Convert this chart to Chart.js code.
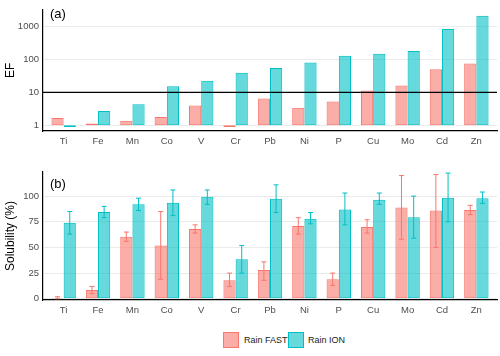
<!DOCTYPE html>
<html>
<head>
<meta charset="utf-8">
<script src="https://cdn.jsdelivr.net/npm/chart.js@4.4.0/dist/chart.umd.min.js"></script>
<style>
body { margin:0; width:500px; height:356px; background:#fff; font-family:"Liberation Sans", Arial, sans-serif; position:relative; overflow:hidden; }
.panel { position:absolute; left:0; width:500px; }
.tag { position:absolute; font-size:13px; color:#000; }
.leg { position:absolute; font-size:9px; color:#1a1a1a; }
.box { position:absolute; width:14px; height:14px; border:1px solid; }
</style>
</head>
<body>
<div class="panel" style="top:0;height:150px"><canvas id="chartA" width="500" height="150"></canvas></div>
<div class="panel" style="top:150px;height:168px"><canvas id="chartB" width="500" height="168"></canvas></div>
<div class="tag" style="left:50px;top:6px">(a)</div>
<div class="tag" style="left:50px;top:176px">(b)</div>
<div class="box" style="left:223px;top:332px;background:rgba(248,118,109,0.6);border-color:#F8766D"></div>
<div class="leg" style="left:244px;top:335px">Rain FAST</div>
<div class="box" style="left:288px;top:332px;background:rgba(0,191,196,0.6);border-color:#00BFC4"></div>
<div class="leg" style="left:308px;top:335px">Rain ION</div>
<script>
const categories = ['Ti','Fe','Mn','Co','V','Cr','Pb','Ni','P','Cu','Mo','Cd','Zn'];
// panel (a) enrichment factors
const efFast = [1.67, 1.14, 1.37, 1.79, 4.0, 0.89, 6.5, 3.4, 5.3, 11.4, 16.3, 51, 76];
const efIon = [0.89, 2.7, 4.4, 15.5, 22.8, 39.5, 55, 81, 130, 150, 181, 850, 2150];
const efTicks = [1, 10, 100, 1000];
// panel (b) solubility with error ranges
const solFast = [1, 8.5, 60.5, 52, 68, 18, 28, 71, 19, 70, 89, 86, 86.5];
const solFastLo = [0, 5, 56, 19, 64, 12, 18, 63, 13, 64, 58, 50, 82];
const solFastHi = [2, 12, 65, 85, 72, 25, 36, 79, 25, 77, 120, 121, 91];
const solIon = [74, 84.5, 92, 93.5, 99.5, 38.5, 97.5, 78, 87, 96.5, 79.5, 98.5, 98];
const solIonLo = [63, 79, 86, 81, 92, 25, 84, 73, 72, 92, 59, 75, 93];
const solIonHi = [85, 90, 98, 106, 106, 52, 111, 84, 103, 103, 100, 122.5, 104];
const solTicks = [0, 25, 50, 75, 100];

const fastFill = 'rgba(248,118,109,0.6)', fastLine = '#F8766D';
const ionFill = 'rgba(0,191,196,0.6)', ionLine = '#00BFC4';
const tickFont = {family: '"Liberation Sans", Arial, sans-serif', size: 9.5};
const titleFont = {family: '"Liberation Sans", Arial, sans-serif', size: 12};

function xAxis(h) {
    return {
        type: 'linear', min: -0.6, max: 12.6, offset: false,
        afterBuildTicks: s => { s.ticks = categories.map((c, i) => ({value: i})); },
        afterFit: s => { s.height = h; },
        grid: {display: false, drawTicks: false},
        border: {display: true, color: '#000', width: 1.2},
        ticks: {callback: v => categories[v], color: '#4d4d4d', font: tickFont, padding: 5, maxRotation: 0, autoSkip: false}
    };
}

// black reference line at EF = 10
const refLine = {
    id: 'refLine',
    afterDatasetsDraw(chart) {
        const y = chart.scales.y.getPixelForValue(10);
        const ctx = chart.ctx;
        ctx.save();
        ctx.strokeStyle = '#000';
        ctx.lineWidth = 1.2;
        ctx.beginPath();
        ctx.moveTo(chart.chartArea.left, y);
        ctx.lineTo(chart.chartArea.right, y);
        ctx.stroke();
        ctx.restore();
    }
};

const errorBars = {
    id: 'errorBars',
    afterDatasetsDraw(chart) {
        const ctx = chart.ctx, ys = chart.scales.y;
        chart.data.datasets.forEach((ds, di) => {
            const meta = chart.getDatasetMeta(di);
            ctx.save();
            ctx.strokeStyle = ds.borderColor;
            ctx.lineWidth = 1;
            meta.data.forEach((bar, i) => {
                const lo = ys.getPixelForValue(ds.errLo[i]);
                const hi = ys.getPixelForValue(ds.errHi[i]);
                ctx.beginPath();
                ctx.moveTo(bar.x, lo); ctx.lineTo(bar.x, hi);
                ctx.moveTo(bar.x - 2.5, lo); ctx.lineTo(bar.x + 2.5, lo);
                ctx.moveTo(bar.x - 2.5, hi); ctx.lineTo(bar.x + 2.5, hi);
                ctx.stroke();
            });
            ctx.restore();
        });
    }
};

const common = {
    responsive: false,
    animation: false,
    plugins: {legend: {display: false}, tooltip: {enabled: false}}
};

new Chart(document.getElementById('chartA'), {
    type: 'bar',
    data: {
        datasets: [{
            label: 'Rain FAST',
            data: efFast.map((v, i) => ({x: i, y: [1, v]})),
            backgroundColor: fastFill, borderColor: fastLine, borderWidth: 1,
            categoryPercentage: 0.71, barPercentage: 1, borderSkipped: false
        }, {
            label: 'Rain ION',
            data: efIon.map((v, i) => ({x: i, y: [1, v]})),
            backgroundColor: ionFill, borderColor: ionLine, borderWidth: 1,
            categoryPercentage: 0.71, barPercentage: 1, borderSkipped: false
        }]
    },
    options: {
        ...common,
        layout: {padding: {top: 4, right: 3, left: 0, bottom: 0}},
        scales: {
            x: xAxis(19),
            y: {
                type: 'logarithmic', min: 0.67, max: 3290,
                afterBuildTicks: s => { s.ticks = efTicks.map(v => ({value: v})); },
                afterFit: s => { s.width = 43; },
                grid: {color: '#ebebeb', lineWidth: 1, drawTicks: false},
                border: {display: true, color: '#000', width: 1.2},
                ticks: {callback: v => String(v), color: '#4d4d4d', font: tickFont, padding: 4},
                title: {display: true, text: 'EF', color: '#000', font: titleFont, padding: {top: 3, bottom: 0}}
            }
        }
    },
    plugins: [refLine]
});

new Chart(document.getElementById('chartB'), {
    type: 'bar',
    data: {
        datasets: [{
            label: 'Rain FAST',
            data: solFast.map((v, i) => ({x: i, y: v})),
            errLo: solFastLo, errHi: solFastHi,
            backgroundColor: fastFill, borderColor: fastLine, borderWidth: 1,
            categoryPercentage: 0.71, barPercentage: 1, borderSkipped: false
        }, {
            label: 'Rain ION',
            data: solIon.map((v, i) => ({x: i, y: v})),
            errLo: solIonLo, errHi: solIonHi,
            backgroundColor: ionFill, borderColor: ionLine, borderWidth: 1,
            categoryPercentage: 0.71, barPercentage: 1, borderSkipped: false
        }]
    },
    options: {
        ...common,
        layout: {padding: {top: 22, right: 3, left: 0, bottom: 0}},
        scales: {
            x: xAxis(18),
            y: {
                type: 'linear', min: -1.2, max: 123.5,
                afterBuildTicks: s => { s.ticks = solTicks.map(v => ({value: v})); },
                afterFit: s => { s.width = 43; },
                grid: {color: '#ebebeb', lineWidth: 1, drawTicks: false},
                border: {display: true, color: '#000', width: 1.2},
                ticks: {color: '#4d4d4d', font: tickFont, padding: 4},
                title: {display: true, text: 'Solubility (%)', color: '#000', font: titleFont, padding: {top: 3, bottom: 0}}
            }
        }
    },
    plugins: [errorBars]
});
</script>
</body>
</html>
